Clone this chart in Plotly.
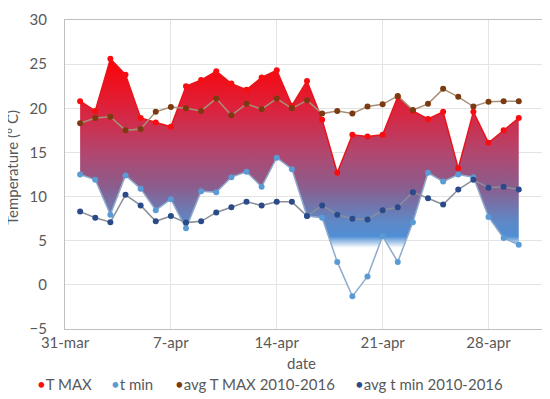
import plotly.graph_objects as go

dates = ["2017-04-01", "2017-04-02", "2017-04-03", "2017-04-04", "2017-04-05",
         "2017-04-06", "2017-04-07", "2017-04-08", "2017-04-09", "2017-04-10",
         "2017-04-11", "2017-04-12", "2017-04-13", "2017-04-14", "2017-04-15",
         "2017-04-16", "2017-04-17", "2017-04-18", "2017-04-19", "2017-04-20",
         "2017-04-21", "2017-04-22", "2017-04-23", "2017-04-24", "2017-04-25",
         "2017-04-26", "2017-04-27", "2017-04-28", "2017-04-29", "2017-04-30"]

t_max = [20.8, 19.7, 25.6, 23.8, 18.9, 18.4, 17.9, 22.5, 23.2, 24.2,
         22.8, 22.1, 23.5, 24.3, 20.3, 23.1, 18.7, 12.7, 17.0, 16.8,
         17.0, 21.3, 19.7, 18.8, 19.6, 13.2, 19.6, 16.1, 17.5, 18.9]

t_min = [12.5, 11.9, 7.95, 12.4, 10.9, 8.45, 9.7, 6.4, 10.6, 10.5,
         12.2, 12.8, 11.1, 14.4, 13.1, 7.8, 7.6, 2.6, -1.3, 0.95,
         5.5, 2.6, 7.1, 12.7, 11.7, 12.5, 12.2, 7.7, 5.3, 4.55]

avg_t_max = [18.3, 18.9, 19.05, 17.5, 17.65, 19.6, 20.15, 20.0, 19.7, 21.1,
             19.2, 20.5, 19.9, 21.1, 20.0, 20.9, 19.4, 19.7, 19.4, 20.2,
             20.45, 21.4, 19.8, 20.5, 22.2, 21.3, 20.2, 20.75, 20.8, 20.8]

avg_t_min = [8.3, 7.6, 7.1, 10.2, 9.0, 7.2, 7.8, 7.05, 7.2, 8.2,
             8.8, 9.4, 9.0, 9.4, 9.4, 7.8, 9.0, 7.95, 7.5, 7.4,
             8.45, 8.8, 10.5, 9.8, 9.1, 10.8, 11.9, 11.0, 11.1, 10.8]

tick_vals = ["2017-03-31", "2017-04-07", "2017-04-14", "2017-04-21", "2017-04-28"]
tick_text = ["31-mar", "7-apr", "14-apr", "21-apr", "28-apr"]

names = ["T MAX", "t min", "avg T MAX 2010-2016", "avg t min 2010-2016"]
marker_colors = ["#f80d10", "#5b9bd5", "#7b3a10", "#2a4a8a"]
line_colors = ["#e8141c", "#8eaacb", "#a89078", "#8a8f99"]

FONT = "Lato"
TXT = "#595959"

fig = go.Figure()

# t min line (lower bound of the band)
fig.add_trace(go.Scatter(x=dates, y=t_min, mode="lines",
                         line=dict(color=line_colors[1], width=1.5),
                         showlegend=False, hoverinfo="skip"))
# T MAX with gradient band down to t min
lo, hi = 4.2, 26.0
def pos(v):
    return (v - lo) / (hi - lo)
fig.add_trace(go.Scatter(
    x=dates, y=t_max, mode="lines", fill="tonexty",
    line=dict(color=line_colors[0], width=1.5),
    fillgradient=dict(
        type="vertical", start=lo, stop=hi,
        colorscale=[[0, "rgba(255,255,255,1)"],
                    [pos(5.5), "rgb(80,142,212)"],
                    [pos(7.2), "rgb(94,136,198)"],
                    [pos(11), "rgb(138,94,142)"],
                    [pos(15), "rgb(178,70,110)"],
                    [pos(20), "rgb(220,34,60)"],
                    [1, "rgb(255,0,0)"]]),
    showlegend=False, hoverinfo="skip"))

# avg lines
fig.add_trace(go.Scatter(x=dates, y=avg_t_max, mode="lines",
                         line=dict(color=line_colors[2], width=1.5),
                         showlegend=False, hoverinfo="skip"))
fig.add_trace(go.Scatter(x=dates, y=avg_t_min, mode="lines",
                         line=dict(color=line_colors[3], width=1.5),
                         showlegend=False, hoverinfo="skip"))

# markers
for series, name, col in zip([t_max, t_min, avg_t_max, avg_t_min], names, marker_colors):
    fig.add_trace(go.Scatter(x=dates, y=series, mode="markers", name=name,
                             marker=dict(color=col, size=6), showlegend=False))

PL, PW, PT, PH = 57, 484, 12, 309
def px_x(px):
    return (px - PL) / PW
def px_y(py):
    return (PT + PH - py) / PH

# legend drawn as text entries (bullet + name) below the plot
legend_px = [27, 101, 165, 345]
for px, name, col in zip(legend_px, names, marker_colors):
    fig.add_annotation(
        xref="paper", yref="paper", x=px_x(px), y=px_y(376),
        xanchor="left", yanchor="middle", showarrow=False,
        text=f"<span style='color:{col}'>•</span>{name}",
        font=dict(family=FONT, size=15, color=TXT))

# axis titles
fig.add_annotation(xref="paper", yref="paper", x=px_x(4), y=px_y(160),
                   xanchor="center", yanchor="middle", showarrow=False,
                   textangle=-90, text="Temperature (° C)",
                   font=dict(family=FONT, size=15, color=TXT))
fig.add_annotation(xref="paper", yref="paper", x=px_x(293), y=px_y(355),
                   xanchor="center", yanchor="middle", showarrow=False,
                   text="date", font=dict(family=FONT, size=15, color=TXT))

fig.update_layout(
    width=550, height=399,
    margin=dict(l=57, r=9, t=12, b=78),
    paper_bgcolor="white", plot_bgcolor="white",
    font=dict(family=FONT, size=15, color=TXT),
    showlegend=False,
)
fig.update_xaxes(
    type="date", range=["2017-03-31", "2017-05-02"],
    tickvals=tick_vals, ticktext=tick_text,
    showgrid=True, gridcolor="#e4e4e4", gridwidth=1,
    showline=True, linecolor="#bfbfbf", linewidth=1, mirror=True,
    ticks="", tickfont=dict(size=15, color=TXT), ticklabelstandoff=0,
    automargin=False,
)
fig.update_yaxes(
    range=[-5, 30], dtick=5, tick0=0,
    showgrid=True, gridcolor="#e4e4e4", gridwidth=1,
    showline=True, linecolor="#bfbfbf", linewidth=1, mirror=True,
    zeroline=False, ticks="outside", ticklen=14, tickcolor="rgba(0,0,0,0)",
    tickfont=dict(size=15, color=TXT), automargin=False,
)

fig.write_html("out.html")
